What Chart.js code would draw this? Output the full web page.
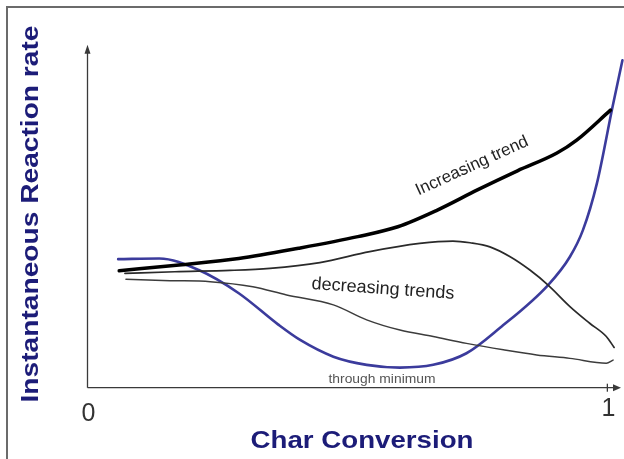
<!DOCTYPE html>
<html>
<head>
<meta charset="utf-8">
<script src="https://cdn.jsdelivr.net/npm/chart.js@4/dist/chart.umd.min.js"></script>
<style>
  html, body { margin: 0; padding: 0; background: #fff; }
  #wrap { width: 624px; height: 459px; position: relative; }
</style>
</head>
<body>
<div id="wrap"><canvas id="c" width="624" height="459"></canvas></div>
<script>
// ---- data (x = char conversion, y = relative reaction rate 0..100) ----
const xTickValues = [0, 1];
const xTickLabels = ['0', '1'];
const xAxisTitle = 'Char Conversion';
const yAxisTitle = 'Instantaneous Reaction rate';

const increasingX = [0.061, 0.176, 0.291, 0.406, 0.520, 0.597, 0.673, 0.750, 0.827, 0.903, 0.941, 1.006];
const increasingY = [34.3, 36.0, 37.9, 40.9, 44.3, 47.2, 52.1, 58.0, 63.6, 68.8, 72.6, 81.4];

const minimumX = [0.059, 0.138, 0.214, 0.291, 0.367, 0.409, 0.473, 0.537, 0.601, 0.665, 0.729, 0.793, 0.886, 0.928, 0.953, 0.980, 1.010, 1.029];
const minimumY = [37.7, 37.9, 34.5, 27.7, 18.5, 14.0, 9.1, 6.7, 5.9, 6.7, 10.1, 17.5, 30.1, 38.4, 46.2, 60.0, 82.4, 96.0];

const peakedX = [0.072, 0.168, 0.274, 0.351, 0.447, 0.543, 0.639, 0.703, 0.736, 0.774, 0.813, 0.851, 0.886, 0.928, 0.966, 0.998, 1.013];
const peakedY = [33.5, 34.0, 34.4, 35.0, 36.7, 39.9, 42.3, 43.0, 42.5, 41.3, 38.4, 34.5, 30.1, 23.8, 18.9, 15.0, 11.8];

const fallingX = [0.074, 0.159, 0.236, 0.318, 0.383, 0.473, 0.537, 0.601, 0.665, 0.729, 0.800, 0.864, 0.928, 0.998, 1.011];
const fallingY = [31.8, 31.4, 31.1, 29.6, 27.2, 24.3, 19.9, 16.9, 15.0, 13.0, 11.1, 9.6, 8.6, 7.2, 8.1];

const labelIncreasing = 'Increasing trend';
const labelDecreasing = 'decreasing trends';
const labelMinimum = 'through minimum';

function pts(xs, ys) { return xs.map((x, i) => ({ x: x, y: ys[i] })); }

const annotationPlugin = {
  id: 'sketchAxes',
  beforeDraw(chart) {
    const ctx = chart.ctx;
    ctx.save();
    ctx.fillStyle = '#ffffff';
    ctx.fillRect(0, 0, chart.width, chart.height);
    ctx.strokeStyle = '#6b6b6b';
    ctx.lineWidth = 2;
    ctx.beginPath();
    ctx.moveTo(7, 459);
    ctx.lineTo(7, 7);
    ctx.lineTo(624, 7);
    ctx.stroke();
    ctx.restore();
  },
  afterDraw(chart) {
    const ctx = chart.ctx;
    const xs = chart.scales.x, ys = chart.scales.y;
    const x0 = xs.getPixelForValue(0), y0 = ys.getPixelForValue(0);
    const yTop = ys.getPixelForValue(ys.max);
    ctx.save();
    ctx.strokeStyle = '#3a3a3a';
    ctx.fillStyle = '#3a3a3a';
    ctx.lineWidth = 1.3;
    ctx.beginPath();
    ctx.moveTo(x0, y0);
    ctx.lineTo(x0, yTop + 6);
    ctx.stroke();
    ctx.beginPath();
    ctx.moveTo(x0, yTop - 2);
    ctx.lineTo(x0 - 3, yTop + 7);
    ctx.lineTo(x0 + 3, yTop + 7);
    ctx.closePath();
    ctx.fill();
    const xEnd = 621;
    ctx.beginPath();
    ctx.moveTo(x0, y0);
    ctx.lineTo(xEnd - 6, y0);
    ctx.stroke();
    ctx.beginPath();
    ctx.moveTo(xEnd, y0);
    ctx.lineTo(xEnd - 8, y0 - 3.5);
    ctx.lineTo(xEnd - 8, y0 + 3.5);
    ctx.closePath();
    ctx.fill();
    const x1 = xs.getPixelForValue(1);
    ctx.beginPath();
    ctx.moveTo(x1, y0 - 4);
    ctx.lineTo(x1, y0 + 4);
    ctx.stroke();

    ctx.fillStyle = '#333333';
    ctx.font = '25px "Liberation Sans", Arial, sans-serif';
    ctx.textAlign = 'center';
    ctx.textBaseline = 'middle';
    xTickValues.forEach((v, i) => {
      ctx.fillText(xTickLabels[i], xs.getPixelForValue(v) + 1, 414 - i * 5);
    });

    ctx.fillStyle = '#1c1c78';
    ctx.font = 'bold 24px "Liberation Sans", Arial, sans-serif';
    let w = ctx.measureText(xAxisTitle).width;
    ctx.save();
    ctx.translate(362, 441);
    ctx.scale(223 / w, 1);
    ctx.fillText(xAxisTitle, 0, 0);
    ctx.restore();

    w = ctx.measureText(yAxisTitle).width;
    ctx.save();
    ctx.translate(31, 214);
    ctx.rotate(-Math.PI / 2);
    ctx.scale(377 / w, 1);
    ctx.fillText(yAxisTitle, 0, 0);
    ctx.restore();

    ctx.fillStyle = '#222222';
    ctx.font = '17px "Liberation Sans", Arial, sans-serif';
    ctx.save();
    ctx.translate(472, 166);
    ctx.rotate(-24.5 * Math.PI / 180);
    ctx.fillText(labelIncreasing, 0, 0);
    ctx.restore();

    ctx.font = '18px "Liberation Sans", Arial, sans-serif';
    ctx.save();
    ctx.translate(383, 289);
    ctx.rotate(4 * Math.PI / 180);
    ctx.fillText(labelDecreasing, 0, 0);
    ctx.restore();

    ctx.fillStyle = '#555555';
    ctx.font = '12px "Liberation Sans", Arial, sans-serif';
    w = ctx.measureText(labelMinimum).width;
    ctx.save();
    ctx.translate(382, 380);
    ctx.scale(107 / w, 1);
    ctx.fillText(labelMinimum, 0, 0);
    ctx.restore();

    ctx.restore();
  }
};

const lineBase = { pointRadius: 0, fill: false, cubicInterpolationMode: 'monotone', borderCapStyle: 'round', borderJoinStyle: 'round' };

new Chart(document.getElementById('c'), {
  type: 'line',
  data: {
    datasets: [
      Object.assign({}, lineBase, { label: 'falling', data: pts(fallingX, fallingY), borderColor: '#3c3c3c', borderWidth: 1.5 }),
      Object.assign({}, lineBase, { label: 'peaked', data: pts(peakedX, peakedY), borderColor: '#2a2a2a', borderWidth: 1.7 }),
      Object.assign({}, lineBase, { label: 'increasing', data: pts(increasingX, increasingY), borderColor: '#000000', borderWidth: 3.5 }),
      Object.assign({}, lineBase, { label: 'minimum', data: pts(minimumX, minimumY), borderColor: '#3b3b9c', borderWidth: 2.6 })
    ]
  },
  options: {
    responsive: false,
    animation: false,
    clip: false,
    layout: { padding: { left: 87.5, top: 46.7, right: 0, bottom: 71.3 } },
    plugins: { legend: { display: false }, tooltip: { enabled: false }, title: { display: false } },
    scales: {
      x: { type: 'linear', min: 0, max: 1.032, display: false },
      y: { type: 'linear', min: 0, max: 100, display: false }
    }
  },
  plugins: [annotationPlugin]
});
</script>
</body>
</html>
